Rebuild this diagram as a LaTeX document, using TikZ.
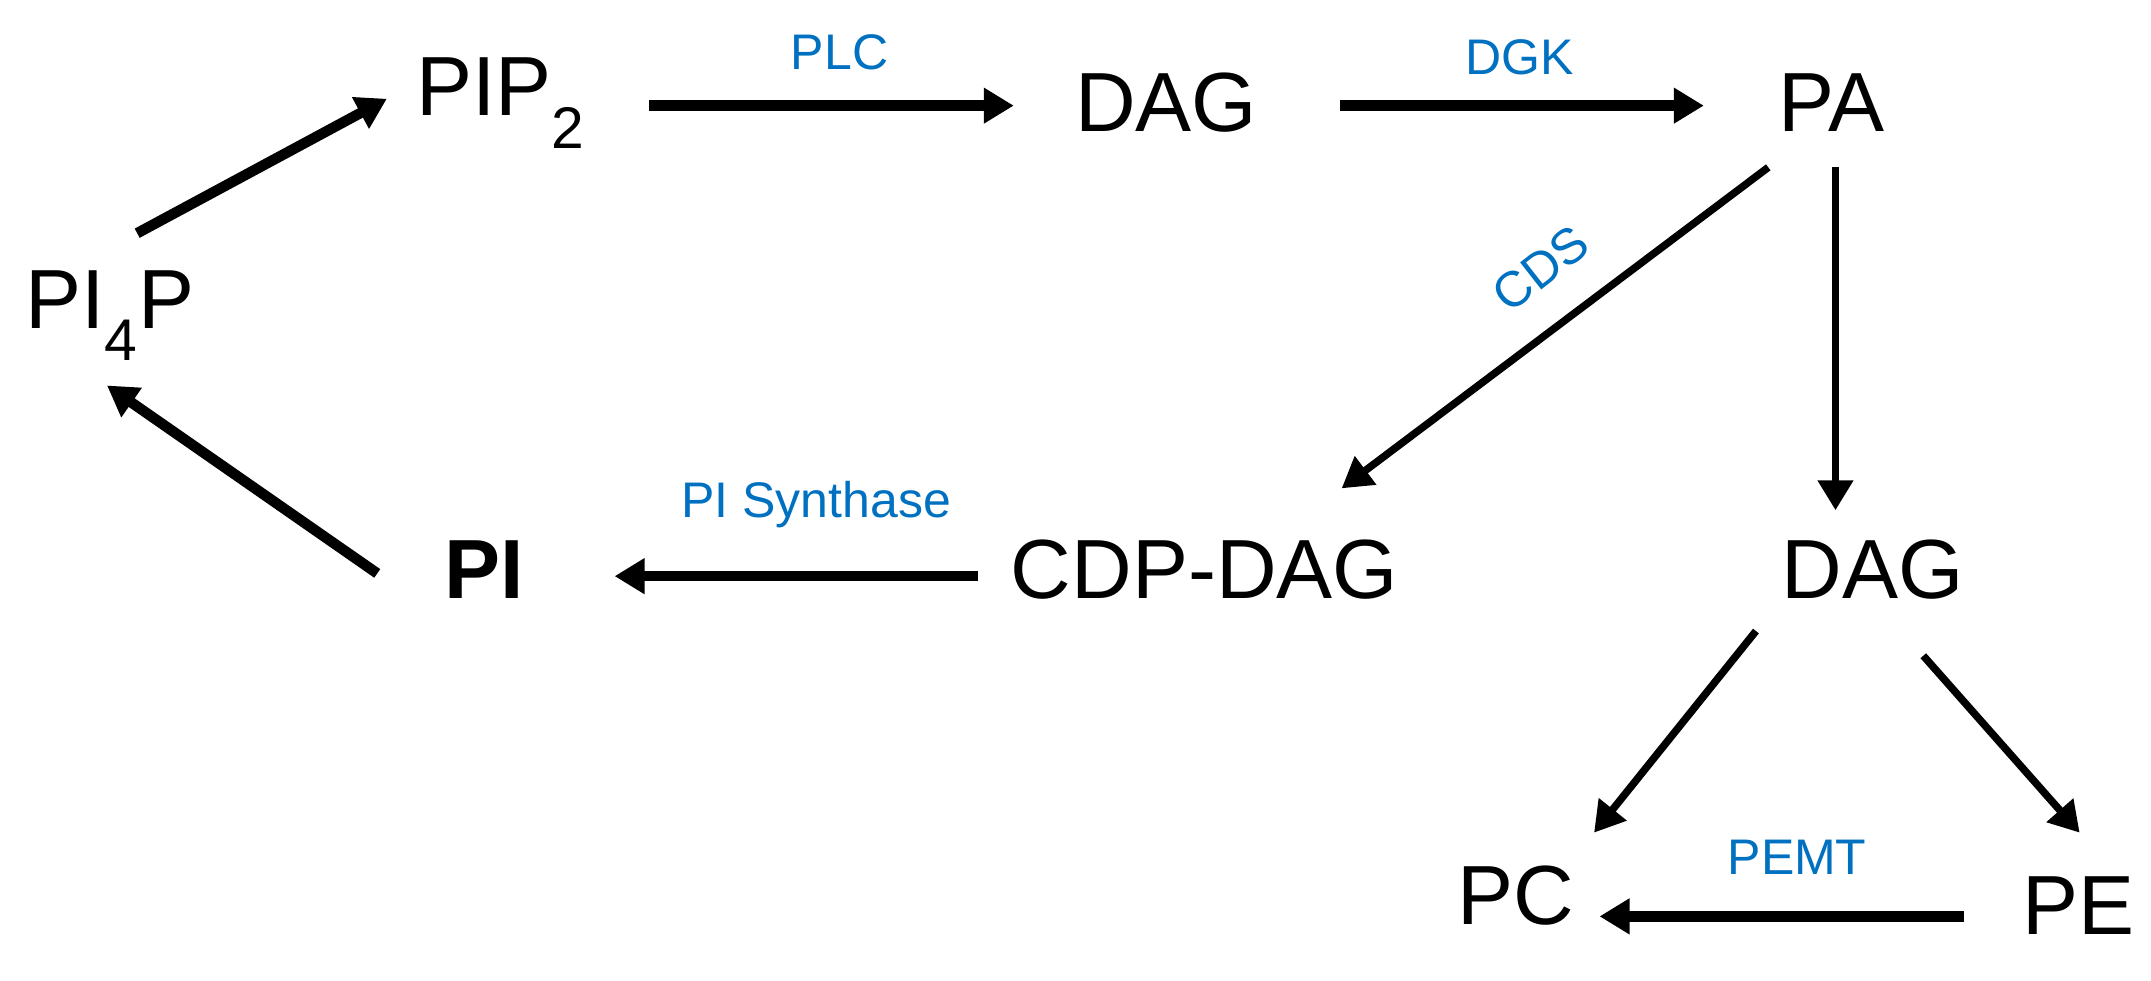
\documentclass[tikz,border=0pt]{standalone}
\usepackage{fontspec}
\setmainfont{Liberation Sans}
\usetikzlibrary{arrows.meta}
\definecolor{lab}{RGB}{0,112,192}
\begin{document}
\begin{tikzpicture}[x=1.372pt,y=-1.372pt,
  m/.style={font=\fontsize{84}{90}\selectfont, inner sep=0},
  e/.style={font=\fontsize{50}{55}\selectfont, text=lab, inner sep=0},
  ar/.style={line width=10.5pt,-{Triangle[length=30pt,width=34pt]}},
  tn/.style={line width=7.5pt}]
\useasboundingbox (0,0) rectangle (1568,715);
\node[m] (pip2) at (365,75) {PIP\textsubscript{2}};
\node[m] (dag1) at (850,75) {DAG};
\node[m] (pa) at (1335,75) {PA};
\node[m] (pi4p) at (80,230) {PI\textsubscript{4}P};
\node[m,font=\fontsize{84}{90}\selectfont\bfseries] (pi) at (353,415) {PI};
\node[m] (cdp) at (878,415) {CDP-DAG};
\node[m] (dag2) at (1365,415) {DAG};
\node[m] (pc) at (1105,653) {PC};
\node[m] (pe) at (1515,660) {PE};
\coordinate (a1) at (100,170); \coordinate (b1) at (282,72);
\coordinate (a2) at (473,77); \coordinate (b2) at (739,77);
\coordinate (a3) at (977,77); \coordinate (b3) at (1242,77);
\coordinate (a4) at (1289,122); \coordinate (b4) at (978,356);
\coordinate (a5) at (1338,122); \coordinate (b5) at (1338,372);
\coordinate (a6) at (275,418); \coordinate (b6) at (78,281);
\coordinate (a7) at (713,420); \coordinate (b7) at (448,420);
\coordinate (a8) at (1280,460); \coordinate (b8) at (1162,607);
\coordinate (a9) at (1402,478); \coordinate (b9) at (1516,607);
\coordinate (a10) at (1432,668); \coordinate (b10) at (1166,668);
\draw[ar] (a1) -- (b1);
\draw[ar] (a2) -- (b2);
\draw[ar] (a3) -- (b3);
\draw[ar,tn] (a4) -- (b4);
\draw[ar,tn] (a5) -- (b5);
\draw[ar] (a6) -- (b6);
\draw[ar] (a7) -- (b7);
\draw[ar,tn] (a8) -- (b8);
\draw[ar,tn] (a9) -- (b9);
\draw[ar] (a10) -- (b10);
\node[e] (plc) at (612,38) {PLC};
\node[e] (dgk) at (1108,42) {DGK};
\node[e,rotate=38] (cds) at (1123,196) {CDS};
\node[e] (pis) at (595,368) {PI Synthase};
\node[e] (pemt) at (1310,625) {PEMT};
\end{tikzpicture}
\end{document}
